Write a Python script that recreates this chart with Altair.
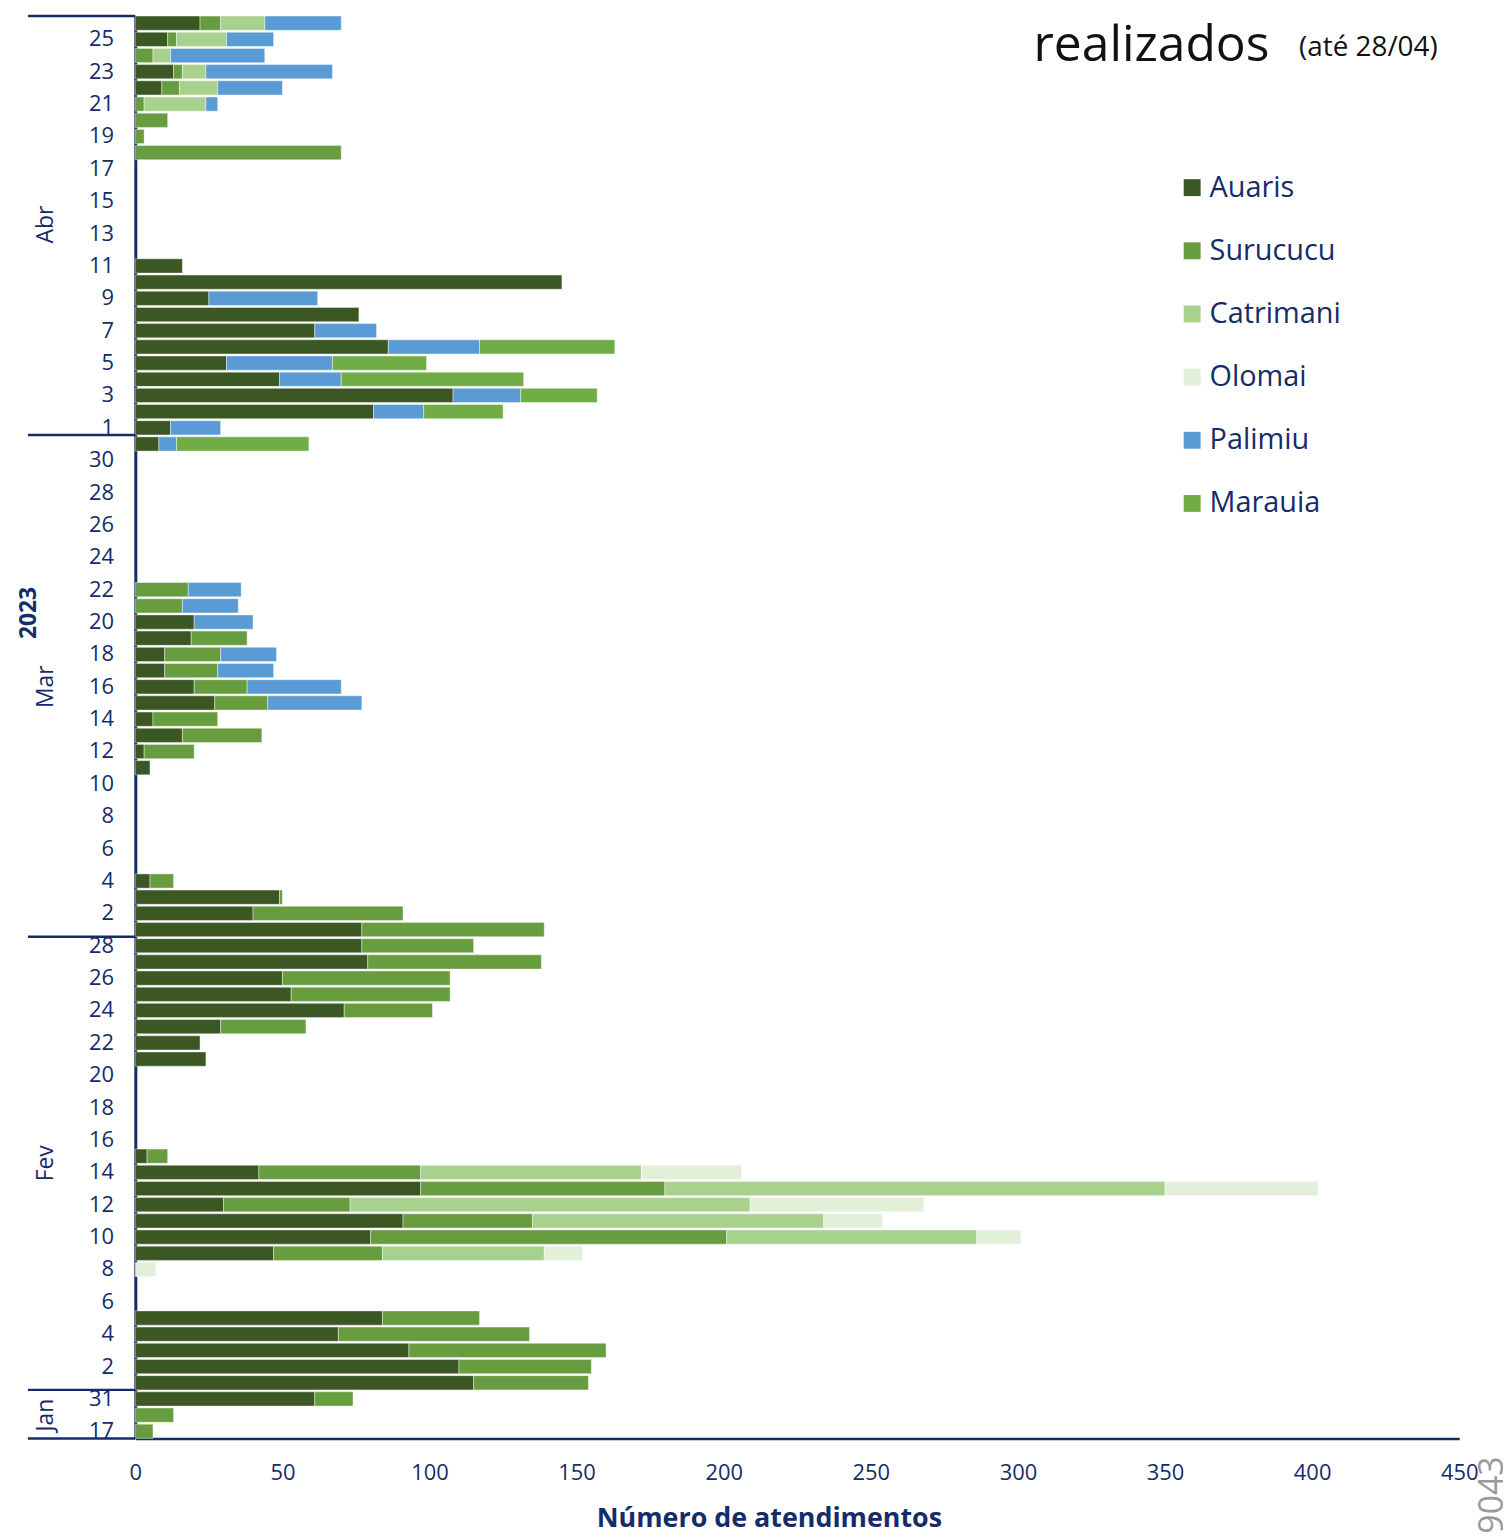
import altair as alt
import pandas as pd

FONT = "Open Sans"
NAVY = "#152c69"

stations = ["Auaris", "Surucucu", "Catrimani", "Olomai", "Palimiu", "Marauia"]
colors = ["#3a5724", "#679d3f", "#a9d18e", "#e2efd9", "#5b9bd5", "#70ad47"]

# category days (month -> days present on the axis)
jan_days = [17, 24, 31]
feb_days = list(range(1, 29))
mar_days = list(range(1, 32))
apr_days = list(range(1, 27))

auaris = {
    "01-31": 61, "02-01": 115, "02-02": 110, "02-03": 93, "02-04": 69, "02-05": 84,
    "02-09": 47, "02-10": 80, "02-11": 91, "02-12": 30, "02-13": 97, "02-14": 42, "02-15": 4,
    "02-21": 24, "02-22": 22, "02-23": 29, "02-24": 71, "02-25": 53, "02-26": 50,
    "02-27": 79, "02-28": 77,
    "03-01": 77, "03-02": 40, "03-03": 49, "03-04": 5,
    "03-11": 5, "03-12": 3, "03-13": 16, "03-14": 6, "03-15": 27, "03-16": 20,
    "03-17": 10, "03-18": 10, "03-19": 19, "03-20": 20,
    "03-31": 8, "04-01": 12, "04-02": 81, "04-03": 108, "04-04": 49, "04-05": 31,
    "04-06": 86, "04-07": 61, "04-08": 76, "04-09": 25, "04-10": 145, "04-11": 16,
    "04-22": 9, "04-23": 13, "04-25": 11, "04-26": 22,
}
surucucu = {
    "01-17": 6, "01-24": 13, "01-31": 13, "02-01": 39, "02-02": 45, "02-03": 67,
    "02-04": 65, "02-05": 33,
    "02-09": 37, "02-10": 121, "02-11": 44, "02-12": 43, "02-13": 83, "02-14": 55, "02-15": 7,
    "02-23": 29, "02-24": 30, "02-25": 54, "02-26": 57, "02-27": 59, "02-28": 38,
    "03-01": 62, "03-02": 51, "03-03": 1, "03-04": 8,
    "03-12": 17, "03-13": 27, "03-14": 22, "03-15": 18, "03-16": 18, "03-17": 18,
    "03-18": 19, "03-19": 19, "03-21": 16, "03-22": 18,
    "04-18": 70, "04-19": 3, "04-20": 11, "04-21": 3, "04-22": 6, "04-23": 3,
    "04-24": 6, "04-25": 3, "04-26": 7,
}
catrimani = {
    "02-09": 55, "02-10": 85, "02-11": 99, "02-12": 136, "02-13": 170, "02-14": 75,
    "04-21": 21, "04-22": 13, "04-23": 8, "04-24": 6, "04-25": 17, "04-26": 15,
}
olomai = {
    "02-08": 7, "02-09": 13, "02-10": 15, "02-11": 20, "02-12": 59, "02-13": 52, "02-14": 34,
}
palimiu = {
    "03-15": 32, "03-16": 32, "03-17": 19, "03-18": 19, "03-20": 20, "03-21": 19, "03-22": 18,
    "03-31": 6, "04-01": 17, "04-02": 17, "04-03": 23, "04-04": 21, "04-05": 36,
    "04-06": 31, "04-07": 21, "04-09": 37,
    "04-21": 4, "04-22": 22, "04-23": 43, "04-24": 32, "04-25": 16, "04-26": 26,
}
marauia = {
    "03-31": 45, "04-02": 27, "04-03": 26, "04-04": 62, "04-05": 32, "04-06": 46,
}

month_labels = ["Abr", "Mar", "Fev", "Jan"]
month_anchor = ["04-14", "03-16", "02-15", "01-24"]
month_band = [1.0, 0.5, 1.0, 0.5]
separators_bottom = ["04-01", "03-01", "02-01", "01-17"]
separators_top = ["04-26"]


def k(md):
    return "2023-" + md


days = ([k(f"01-{d:02d}") for d in jan_days] + [k(f"02-{d:02d}") for d in feb_days]
        + [k(f"03-{d:02d}") for d in mar_days] + [k(f"04-{d:02d}") for d in apr_days])
y_order = list(reversed(days))

rows = []
for i, (name, series) in enumerate(zip(stations, [auaris, surucucu, catrimani, olomai, palimiu, marauia])):
    for md, v in series.items():
        rows.append({"day": k(md), "station": name, "value": v, "ord": i})
df = pd.DataFrame(rows)

label_expr = (
    "(slice(datum.value,5,7)=='04' || slice(datum.value,5,7)=='01') ? "
    "(toNumber(slice(datum.value,8))%2==1 ? ''+toNumber(slice(datum.value,8)) : '') : "
    "(toNumber(slice(datum.value,8))%2==0 ? ''+toNumber(slice(datum.value,8)) : '')"
)

y_scale = alt.Scale(domain=y_order, paddingInner=0.12, paddingOuter=0)
y_axis = alt.Axis(
    title=None, ticks=False, grid=False, domainColor=NAVY, domainWidth=3,
    labelFontSize=22, labelColor=NAVY, labelFont=FONT, labelPadding=22,
    labelExpr=label_expr, labelOverlap=False,
)


def yenc(bp):
    return alt.Y("day:O", sort=y_order, scale=y_scale, axis=y_axis, bandPosition=bp)


bars = alt.Chart(df).mark_bar(stroke="white", strokeWidth=0.6, strokeOpacity=0.7).encode(
    x=alt.X(
        "value:Q", stack="zero",
        scale=alt.Scale(domain=[0, 450], nice=False),
        axis=alt.Axis(
            values=list(range(0, 451, 50)), ticks=False, grid=False, labelFlush=False,
            domainColor=NAVY, domainWidth=2.5, labelFontSize=22, labelColor=NAVY,
            labelFont=FONT, labelPadding=24,
            title="Número de atendimentos", titleFontSize=27, titleFontWeight="bold",
            titleColor=NAVY, titleFont=FONT, titleX=637, titleY=89,
            titleBaseline="alphabetic",
        ),
    ),
    y=alt.Y("day:O", sort=y_order, scale=y_scale, axis=y_axis),
    color=alt.Color(
        "station:N", sort=stations,
        scale=alt.Scale(domain=stations, range=colors),
        legend=alt.Legend(
            orient="none", legendX=1048, legendY=158, title=None,
            symbolType="square", symbolSize=289, symbolStrokeWidth=0,
            labelFontSize=29, labelColor=NAVY, labelFont=FONT,
            rowPadding=33.5, labelOffset=3,
        ),
    ),
    order=alt.Order("ord:Q", sort="ascending"),
)

sep_bottom = alt.Chart(pd.DataFrame({"day": [k(s) for s in separators_bottom]})).mark_rule(
    color=NAVY, strokeWidth=2.5
).encode(y=yenc(1), x=alt.value(-108), x2=alt.value(0))
sep_top = alt.Chart(pd.DataFrame({"day": [k(s) for s in separators_top]})).mark_rule(
    color=NAVY, strokeWidth=2.5
).encode(y=yenc(0), x=alt.value(-108), x2=alt.value(0))

mdf = pd.DataFrame({"label": month_labels, "day": [k(a) for a in month_anchor], "bp": month_band})
months_half = alt.Chart(mdf[mdf.bp == 0.5]).mark_text(
    angle=270, align="center", baseline="alphabetic", fontSize=23, color=NAVY, font=FONT
).encode(y=yenc(0.5), x=alt.value(-83), text="label:N")
months_full = alt.Chart(mdf[mdf.bp == 1.0]).mark_text(
    angle=270, align="center", baseline="alphabetic", fontSize=23, color=NAVY, font=FONT
).encode(y=yenc(1), x=alt.value(-83), text="label:N")
year = alt.Chart(pd.DataFrame({"label": ["2023"], "day": [k("03-21")]})).mark_text(
    angle=270, align="center", baseline="alphabetic", fontSize=23, fontWeight="bold",
    color=NAVY, font=FONT
).encode(y=yenc(1), x=alt.value(-100), text="label:N")

title_main = alt.Chart(pd.DataFrame({"t": ["realizados"]})).mark_text(
    align="left", baseline="alphabetic", fontSize=50, color="#111111", font=FONT
).encode(x=alt.value(903), y=alt.value(45), text="t:N")
title_sub = alt.Chart(pd.DataFrame({"t": ["(até 28/04)"]})).mark_text(
    align="left", baseline="alphabetic", fontSize=28, color="#111111", font=FONT
).encode(x=alt.value(1170), y=alt.value(40), text="t:N")
mark_id = alt.Chart(pd.DataFrame({"t": ["9043"]})).mark_text(
    align="right", baseline="alphabetic", angle=270, fontSize=34, color="#9a9a9a", font=FONT
).encode(x=alt.value(1375), y=alt.value(1448), text="t:N")

chart = alt.layer(
    bars, sep_bottom, sep_top, months_half, months_full, year, title_main, title_sub, mark_id
).properties(
    width=1331, height=1430,
    padding={"left": 128, "top": 4, "right": 44, "bottom": 95},
    autosize=alt.AutoSizeParams(type="none"),
).configure_view(stroke=None)

chart.save("out.html", embed_options={"renderer": "svg", "actions": False})
